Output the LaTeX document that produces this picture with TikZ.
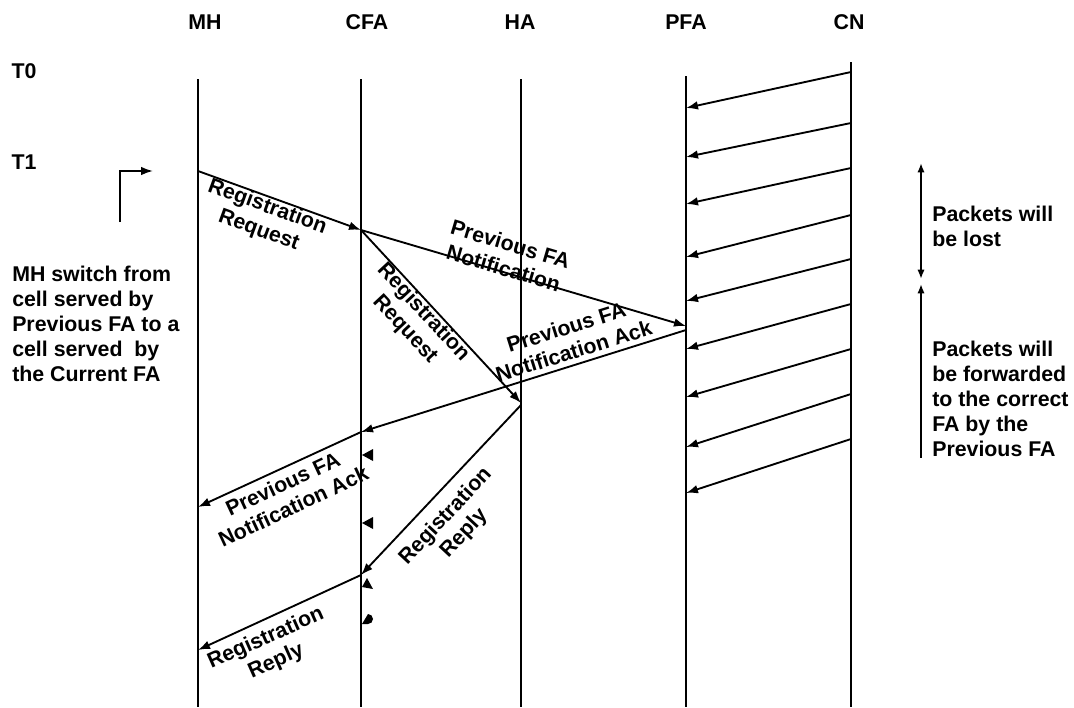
\documentclass[tikz,border=0pt]{standalone}
\usepackage{fontspec}
\setmainfont{Liberation Sans}
\usetikzlibrary{arrows.meta}

\begin{document}
\begin{tikzpicture}[x=0.75pt,y=-0.75pt,
  every node/.style={font=\bfseries\fontsize{16pt}{18.75pt}\selectfont, inner sep=0pt},
  life/.style={line width=1.4pt},
  msg/.style={line width=1.4pt, -{Latex[length=9pt,width=6.5pt]}},
  lbl/.style={align=center},
  side/.style={align=left, anchor=north west},
  stub/.style={fill=black}]
\useasboundingbox (0,0) rectangle (1074,707);

% entity headers
\node (mh)  at (205,22) {MH};
\node (cfa) at (367,22) {CFA};
\node (ha)  at (520,22) {HA};
\node (pfa) at (686,22) {PFA};
\node (cn)  at (849,22) {CN};

% time marks
\node (t0) at (24,71)  {T0};
\node (t1) at (24,162) {T1};

% lifelines
\coordinate (mhT)  at (198,79);  \coordinate (mhB)  at (198,707);
\coordinate (cfaT) at (361,79);  \coordinate (cfaB) at (361,707);
\coordinate (haT)  at (521,79);  \coordinate (haB)  at (521,707);
\coordinate (pfaT) at (686,76);  \coordinate (pfaB) at (686,707);
\coordinate (cnT)  at (851,62);  \coordinate (cnB)  at (851,707);
\foreach \l in {mh,cfa,ha,pfa,cn} \draw[life] (\l T) -- (\l B);

% packets from CN towards the previous FA
\foreach \i/\a/\b in {1/72/108,2/123/157,3/168/204,4/215/257,5/259/301,
                      6/304/349,7/349/397,8/394/447,9/439/493} {
  \coordinate (cn\i) at (851,\a);
  \coordinate (pf\i) at (686,\b);
  \draw[msg] (cn\i) -- (pf\i);
}

% signalling messages
\coordinate (p1) at (198,171);
\coordinate (p2) at (361,230);
\coordinate (p3) at (686,326);
\coordinate (p4) at (521,403);
\coordinate (p5) at (686,330);
\coordinate (p6) at (361,432);
\coordinate (p7) at (198,507);
\coordinate (p8) at (521,405);
\coordinate (p9) at (361,575);
\coordinate (p10) at (198,650);

\draw[msg] (p1) -- (p2);
\draw[msg] (p2) -- (p3);
\draw[msg] (p2) -- (p4);
\draw[msg] (p5) -- (p6);
\draw[msg] (p6) -- (p7);
\draw[msg] (p8) -- (p9);
\draw[msg] (p9) -- (p10);

% message labels
\node[lbl, rotate=-20]   (l1) at (263,219) {Registration\\Request};
\node[lbl, rotate=-16.5] (l2) at (507,256) {Previous FA\\Notification};
\node[lbl, rotate=-47]   (l3) at (414,321) {Registration\\Request};
\node[lbl, rotate=17.4]  (l4) at (570,339) {Previous FA\\Notification Ack};
\node[lbl, rotate=25]    (l5) at (288,495) {Previous FA\\Notification Ack};
\node[lbl, rotate=47]    (l6) at (455,525) {Registration\\Reply};
\node[lbl, rotate=24]    (l7) at (271,650) {Registration\\Reply};

% small arrowheads left on the CFA lifeline
\fill[stub] (362,455) -- (373,449) -- (373,461) -- cycle;
\fill[stub] (362,523) -- (373,517) -- (373,529) -- cycle;
\fill[stub] (362,587) -- (367,578) -- (373,589) -- cycle;
\fill[stub] (362,624) -- (368,624) arc[start angle=90,end angle=-90,radius=5] -- cycle;

% handover marker
\coordinate (hA) at (120,222);
\coordinate (hB) at (120,171);
\coordinate (hC) at (153,171);
\draw[msg] (hA) -- (hB) -- (hC);

\node[side] (sw) at (12,266)
  {MH switch from\\cell served by\\Previous FA to a\\cell served\ \ by\\the Current FA};

% packet fate annotations
\coordinate (r1) at (921,163);
\coordinate (r2) at (921,279);
\coordinate (r3) at (921,284);
\coordinate (r4) at (921,458);
\draw[line width=1.4pt, {Latex[length=7pt,width=5.5pt]}-{Latex[length=7pt,width=5.5pt]}] (r1) -- (r2);
\draw[line width=1.4pt, {Latex[length=7pt,width=5.5pt]}-] (r3) -- (r4);

\node[side] (lost) at (932,206) {Packets will\\be lost};
\node[side] (fwd)  at (932,341) {Packets will\\be forwarded\\to the correct\\FA by the\\Previous FA};
\end{tikzpicture}
\end{document}
